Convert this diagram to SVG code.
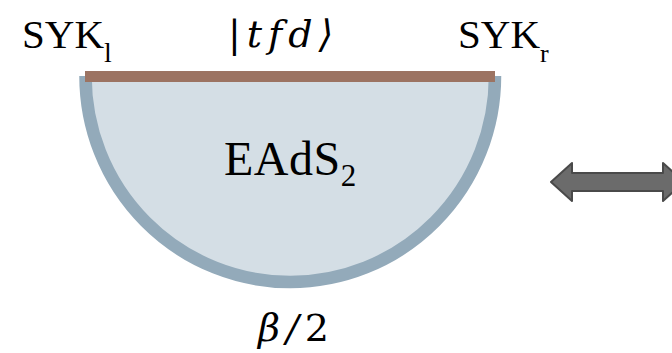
<svg xmlns="http://www.w3.org/2000/svg" width="672" height="353" viewBox="0 0 672 353">
<style>
.serif{font-family:"Liberation Serif","DejaVu Serif",serif;fill:#000}
.math{font-family:"DejaVu Serif","Liberation Serif",serif;font-style:italic;fill:#000}
</style>
<rect width="672" height="353" fill="#fff"/>
<g id="bulk">
<path d="M85.5,76 A204.75,206 0 0 0 495,76 Z" fill="#D4DEE5" stroke="none"/>
<path d="M85.5,76 A204.75,206 0 0 0 495,76" fill="none" stroke="#93AABA" stroke-width="12.5"/>
</g>
<g id="boundary">
<rect x="85" y="71" width="410" height="11" fill="#9C7362"/>
</g>
<g id="labels">
<text class="serif" x="22" y="48" font-size="41">SYK<tspan font-size="28" dy="14">l</tspan></text>
<text class="serif" x="458" y="48" font-size="41">SYK<tspan font-size="26" dy="14">r</tspan></text>
<text class="math" x="228" y="47" font-size="38" letter-spacing="6">|tfd⟩</text>
<text class="serif" x="224" y="175" font-size="48" letter-spacing="0.5">EAdS<tspan font-size="31" dy="11">2</tspan></text>
<text class="math" x="258" y="341" font-size="38" letter-spacing="6">β/<tspan font-style="normal">2</tspan></text>
</g>
<g id="arrow">
<path d="M551,182 L572,163 L572,173 L663,173 L663,163 L684,182 L663,201 L663,191 L572,191 L572,201 Z" fill="#6B6B6B" stroke="#4A4A4A" stroke-width="2" stroke-linejoin="round"/>
</g>
</svg>
